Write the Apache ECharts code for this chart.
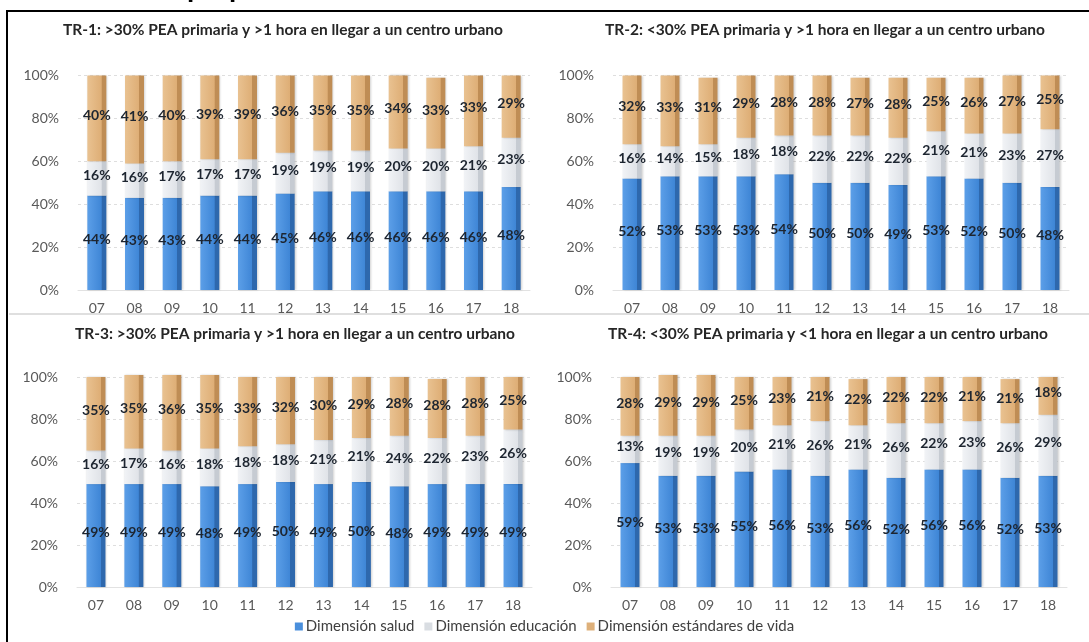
<!DOCTYPE html>
<html>
<head>
<meta charset="utf-8">
<script src="https://cdn.jsdelivr.net/npm/echarts@6/dist/echarts.min.js"></script>
<style>
  html, body { margin: 0; padding: 0; background: #ffffff; }
  #chart { width: 1089px; height: 642px; }
</style>
</head>
<body>
<div id="chart"></div>
<script>
// Years shown on each x axis (2007-2018)
const years = ['07', '08', '09', '10', '11', '12', '13', '14', '15', '16', '17', '18'];
const yTicks = [0, 20, 40, 60, 80, 100];

const seriesNames = ['Dimensión salud', 'Dimensión educación', 'Dimensión estándares de vida'];

const panelTitles = [
  'TR-1: >30% PEA primaria y >1 hora en llegar a un centro urbano',
  'TR-2: <30% PEA primaria y >1 hora en llegar a un centro urbano',
  'TR-3: >30% PEA primaria y >1 hora en llegar a un centro urbano',
  'TR-4: <30% PEA primaria y <1 hora en llegar a un centro urbano'
];

// TR-1
const tr1Salud = [44, 43, 43, 44, 44, 45, 46, 46, 46, 46, 46, 48];
const tr1Educ  = [16, 16, 17, 17, 17, 19, 19, 19, 20, 20, 21, 23];
const tr1Vida  = [40, 41, 40, 39, 39, 36, 35, 35, 34, 33, 33, 29];
// TR-2
const tr2Salud = [52, 53, 53, 53, 54, 50, 50, 49, 53, 52, 50, 48];
const tr2Educ  = [16, 14, 15, 18, 18, 22, 22, 22, 21, 21, 23, 27];
const tr2Vida  = [32, 33, 31, 29, 28, 28, 27, 28, 25, 26, 27, 25];
// TR-3
const tr3Salud = [49, 49, 49, 48, 49, 50, 49, 50, 48, 49, 49, 49];
const tr3Educ  = [16, 17, 16, 18, 18, 18, 21, 21, 24, 22, 23, 26];
const tr3Vida  = [35, 35, 36, 35, 33, 32, 30, 29, 28, 28, 28, 25];
// TR-4
const tr4Salud = [59, 53, 53, 55, 56, 53, 56, 52, 56, 56, 52, 53];
const tr4Educ  = [13, 19, 19, 20, 21, 26, 21, 26, 22, 23, 26, 29];
const tr4Vida  = [28, 29, 29, 25, 23, 21, 22, 22, 22, 21, 21, 18];

const panels = [
  [tr1Salud, tr1Educ, tr1Vida],
  [tr2Salud, tr2Educ, tr2Vida],
  [tr3Salud, tr3Educ, tr3Vida],
  [tr4Salud, tr4Educ, tr4Vida]
];

// Plot rectangles for the 2x2 layout
const grids = [
  { left: 78,  top: 75.5, width: 452, height: 214.5 },
  { left: 613, top: 75.5, width: 456, height: 214.5 },
  { left: 77,  top: 377,  width: 455, height: 210 },
  { left: 611, top: 377,  width: 456, height: 210 }
];
const titlePos = [
  { x: 278, y: 27 },
  { x: 820, y: 27 },
  { x: 290, y: 331 },
  { x: 823, y: 331 }
];

const FONT = 'Lato, "Open Sans", sans-serif';

// Shaded fills give each column a slight 3D look (lighter front, darker side)
function shade(c0, c1, c2) {
  return new echarts.graphic.LinearGradient(0, 0, 1, 0, [
    { offset: 0, color: c0 },
    { offset: 0.74, color: c1 },
    { offset: 0.76, color: c2 },
    { offset: 1, color: c2 }
  ]);
}
const fills = [
  shade('#5c9fe8', '#3f86d6', '#2e68ad'),
  shade('#f1f3f6', '#e0e3e8', '#c6cbd2'),
  shade('#e9c291', '#deae76', '#bf8d55')
];
const legendColors = ['#4a8fdc', '#d9dde2', '#deb07a'];

const chart = echarts.init(document.getElementById('chart'));

const series = [];
panels.forEach((vals, p) => {
  vals.forEach((arr, k) => {
    series.push({
      name: seriesNames[k],
      type: 'bar',
      stack: 'tr' + p,
      xAxisIndex: p,
      yAxisIndex: p,
      barWidth: 19,
      clip: false,
      data: arr,
      itemStyle: {
        color: fills[k],
        shadowColor: 'rgba(0,0,0,0.18)',
        shadowBlur: 2,
        shadowOffsetX: 1
      },
      label: {
        show: true,
        position: 'inside',
        offset: [0, -3],
        formatter: '{c}%',
        fontFamily: FONT,
        fontWeight: 'bold',
        fontSize: 14,
        color: '#1d2530'
      },
      emphasis: { disabled: true }
    });
  });
});

const HEAD_FONT = 'bold 26px "Liberation Sans", Arial, sans-serif';

const option = {
  backgroundColor: '#ffffff',
  animation: false,
  title: panelTitles.map((t, i) => ({
    text: t,
    left: titlePos[i].x,
    top: titlePos[i].y - 10,
    textAlign: 'center',
    textStyle: { fontFamily: FONT, fontWeight: 'bold', fontSize: 15.5, color: '#262626' }
  })),
  legend: {
    data: seriesNames.map((n, i) => ({ name: n, itemStyle: { color: legendColors[i] } })),
    left: 'center',
    top: 614,
    icon: 'rect',
    itemWidth: 8,
    itemHeight: 8,
    itemGap: 10,
    textStyle: { fontFamily: FONT, fontSize: 15, color: '#404040', padding: [0, 0, 0, -2] }
  },
  grid: grids.map(g => Object.assign({}, g)),
  xAxis: grids.map((g, i) => ({
    type: 'category',
    gridIndex: i,
    data: years,
    axisLine: { show: true, lineStyle: { color: '#e2e2e2' } },
    axisTick: { show: false },
    axisLabel: { margin: 11, fontFamily: FONT, fontSize: 14, color: '#595959' }
  })),
  yAxis: grids.map((g, i) => ({
    type: 'value',
    gridIndex: i,
    min: yTicks[0],
    max: yTicks[yTicks.length - 1],
    interval: yTicks[1] - yTicks[0],
    axisLine: { show: false },
    axisTick: { show: false },
    splitLine: { lineStyle: { color: '#dedede', type: [3, 3] } },
    axisLabel: { margin: 19, formatter: '{value}%', fontFamily: FONT, fontSize: 14, color: '#595959' }
  })),
  graphic: [
    // Heading of the figure (its upper part lies above the page edge)
    {
      type: 'text', x: 180, y: -10,
      style: { text: 'Composición según la clasificación', align: 'right', verticalAlign: 'middle',
               font: HEAD_FONT, fill: '#000' }
    },
    {
      type: 'text', x: 187, y: -10,
      style: { text: 'propuesta de territorios rurales durante 2007-2018', align: 'left', verticalAlign: 'middle',
               font: HEAD_FONT, fill: '#000' }
    },
    // Figure frame
    {
      type: 'rect', z: 100,
      shape: { x: 7, y: 11, width: 1100, height: 660 },
      style: { fill: null, stroke: '#000', lineWidth: 2 }
    },
    // Separator between upper and lower panels
    {
      type: 'line', z: 1,
      shape: { x1: 9, y1: 314, x2: 1089, y2: 314 },
      style: { stroke: '#d4d4d4', lineWidth: 1.5 }
    }
  ],
  series: series
};

chart.setOption(option);
</script>
</body>
</html>
